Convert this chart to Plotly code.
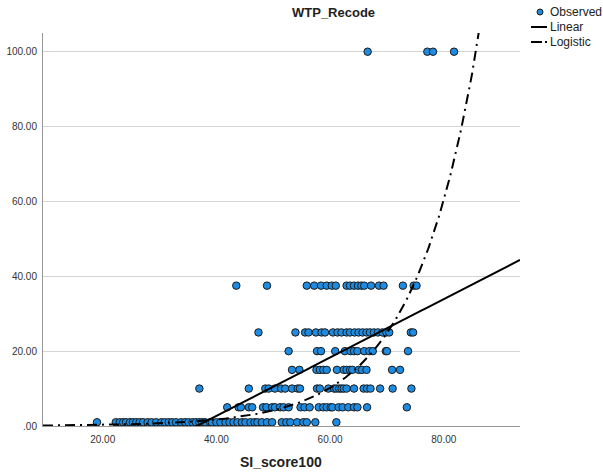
import numpy as np
import plotly.graph_objects as go

# ---- observed data (SI_score100, WTP_Recode) ----
x_100 = [66.6, 77.1, 78.1, 81.8]
x_375 = [43.5, 48.9, 55.9, 57.2, 58.4, 59.4, 60.3, 61.0, 62.9, 63.5, 64.2, 64.9,
         65.5, 66.0, 67.2, 68.6, 69.4, 72.8, 74.7, 75.2]
x_25 = [47.4, 53.9, 55.6, 56.2, 57.5, 58.5, 59.1, 60.5, 61.3, 62.0, 62.9, 63.5,
        64.3, 65.0, 65.7, 66.4, 67.0, 67.7, 68.4, 69.2, 69.9, 70.4, 74.2, 74.6]
x_20 = [52.7, 57.7, 58.4, 60.9, 62.6, 63.6, 64.2, 64.8, 66.0, 66.9, 67.5, 69.8,
        70.0, 73.7]
x_15 = [53.3, 54.6, 57.6, 58.2, 58.8, 59.4, 61.2, 62.4, 62.9, 63.5, 63.9, 65.0,
        65.6, 66.4, 70.9, 72.3]
x_10 = [37.0, 45.7, 48.6, 49.2, 50.3, 51.4, 52.1, 53.3, 54.3, 54.7, 57.7, 58.2,
        59.7, 60.7, 61.1, 61.6, 62.0, 62.4, 62.9, 64.2, 65.9, 66.5, 67.1, 68.8,
        71.0, 74.3]
x_5 = [41.9, 43.9, 44.3, 45.7, 46.3, 48.2, 48.8, 49.8, 50.3, 51.2, 51.8, 52.7,
       54.8, 55.5, 56.4, 58.0, 58.8, 59.4, 60.1, 60.4, 61.5, 62.2, 63.2, 64.2,
       64.8, 66.5, 73.5]
x_1 = [19.0, 22.3, 23.0, 23.6, 24.1, 24.8, 25.3, 25.9, 26.5, 27.1, 27.9, 28.6,
       29.4, 30.3, 30.9, 31.6, 32.2, 32.9, 33.8, 34.5, 35.1, 35.8, 36.4, 37.0,
       37.5, 38.0, 38.9, 39.2, 40.0, 40.7, 41.6, 42.3, 43.0, 43.7, 44.5, 45.1,
       46.0, 46.7, 47.2, 48.0, 48.9, 49.8, 51.5, 52.3, 53.0, 54.2, 55.3, 55.9,
       57.4, 61.1]

groups = [(100, x_100), (37.5, x_375), (25, x_25), (20, x_20), (15, x_15),
          (10, x_10), (5, x_5), (1, x_1)]
obs_x, obs_y = [], []
for yv, xs in groups:
    obs_x += xs
    obs_y += [yv] * len(xs)

# ---- fitted models ----
lin_b0, lin_b1 = -28.5, 0.78          # Linear: y = b0 + b1*x
log_b0, log_b1 = 20.53, 0.9148         # Logistic (no upper bound): y = 1/(b0*b1^x)

x_min, x_max = 9.5, 93.4
y_min, y_max = 0, 105
fit_x = np.linspace(x_min, x_max, 400)
lin_y = lin_b0 + lin_b1 * fit_x
log_y = 1.0 / (log_b0 * log_b1 ** fit_x)

x_ticks = [20, 40, 60, 80]
x_tick_labels = ["20.00", "40.00", "60.00", "80.00"]
y_ticks = [0, 20, 40, 60, 80, 100]
y_tick_labels = [".00", "20.00", "40.00", "60.00", "80.00", "100.00"]
legend_labels = ["Observed", "Linear", "Logistic"]

W, H = 603, 472
ML, MR, MT, MB = 43, 83, 33, 46
PW, PH = W - ML - MR, H - MT - MB


def px(xp):
    return (xp - ML) / PW


def py(yp):
    return 1 - (yp - MT) / PH


COND = "Liberation Sans Narrow, Arial Narrow, Liberation Sans, Arial, sans-serif"
TICKF = "Liberation Sans, Arial, sans-serif"
MARKER_COLOR = "#1E8BE0"

fig = go.Figure()
fig.add_trace(go.Scatter(
    x=obs_x, y=obs_y, mode="markers", name=legend_labels[0],
    marker=dict(size=7.5, color=MARKER_COLOR, line=dict(color="#1a1a1a", width=1)),
    cliponaxis=False))
fig.add_trace(go.Scatter(
    x=fit_x, y=lin_y, mode="lines", name=legend_labels[1],
    line=dict(color="black", width=2)))
fig.add_trace(go.Scatter(
    x=fit_x, y=log_y, mode="lines", name=legend_labels[2],
    line=dict(color="black", width=2, dash="10px,5px,2px,5px")))

# manual legend (keys + labels) to the right of the plot
shapes = [
    dict(type="circle", xref="paper", yref="paper",
         x0=px(537), x1=px(543), y0=py(9), y1=py(15),
         fillcolor=MARKER_COLOR, line=dict(color="#1a1a1a", width=1)),
    dict(type="line", xref="paper", yref="paper",
         x0=px(531), x1=px(547), y0=py(27), y1=py(27),
         line=dict(color="black", width=2)),
    dict(type="line", xref="paper", yref="paper",
         x0=px(531), x1=px(542), y0=py(42), y1=py(42),
         line=dict(color="black", width=2)),
    dict(type="line", xref="paper", yref="paper",
         x0=px(545), x1=px(547), y0=py(42), y1=py(42),
         line=dict(color="black", width=2)),
]
annotations = [
    dict(text="<b>WTP_Recode</b>", x=px(333), y=py(12), xref="paper", yref="paper",
         xanchor="center", yanchor="middle", showarrow=False,
         font=dict(family=COND, size=13, color="#222")),
    dict(text="<b>SI_score100</b>", x=px(281), y=py(462), xref="paper", yref="paper",
         xanchor="center", yanchor="middle", showarrow=False,
         font=dict(family=COND, size=14, color="#222")),
]
for lab, yy in zip(legend_labels, [12, 27, 42]):
    annotations.append(dict(text=lab, x=px(548), y=py(yy), xref="paper", yref="paper",
                            xanchor="left", yanchor="middle", showarrow=False,
                            font=dict(family=COND, size=12, color="#222")))

fig.update_layout(
    width=W, height=H,
    margin=dict(l=ML, r=MR, t=MT, b=MB, autoexpand=False),
    paper_bgcolor="white", plot_bgcolor="white",
    font=dict(family=TICKF, size=11, color="#333"),
    showlegend=False,
    shapes=shapes,
    annotations=annotations,
)

fig.update_xaxes(range=[x_min, x_max], tickvals=x_ticks, ticktext=x_tick_labels,
                 automargin=False,
                 showgrid=False, zeroline=False, showline=True,
                 linecolor="#999", linewidth=1, ticks="outside", ticklen=4,
                 tickcolor="rgba(0,0,0,0)", tickfont=dict(family=TICKF, size=10, color="#333"))
fig.update_yaxes(range=[y_min, y_max], tickvals=y_ticks, ticktext=y_tick_labels,
                 automargin=False,
                 showgrid=True, gridcolor="#d4d4d4", gridwidth=1,
                 zeroline=False, showline=True, linecolor="#999", linewidth=1,
                 ticks="outside", ticklen=3, tickcolor="rgba(0,0,0,0)",
                 tickfont=dict(family=TICKF, size=10, color="#333"))

fig.write_html("out.html", config={"displayModeBar": False},
               post_script="document.body.style.margin='0';document.body.style.overflow='hidden';")
